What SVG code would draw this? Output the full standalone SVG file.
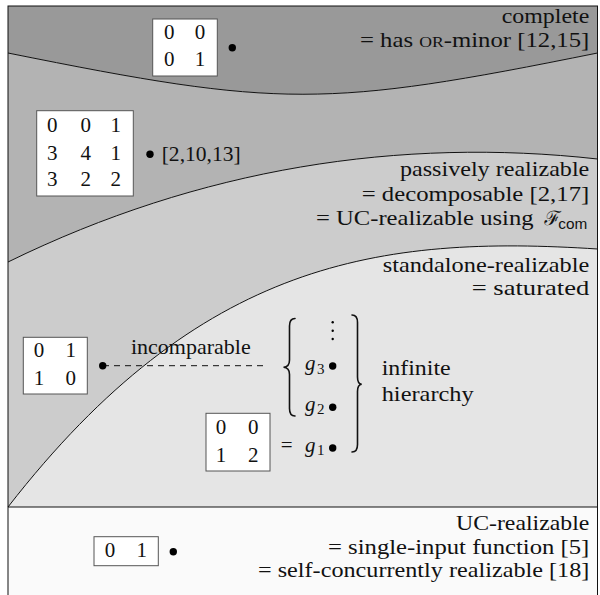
<svg xmlns="http://www.w3.org/2000/svg" width="600" height="595" viewBox="0 0 600 595">
<style>
.t{font-family:'Liberation Serif','Times New Roman',serif;font-size:21px;fill:#111}
.m{font-family:'Liberation Serif','Times New Roman',serif;font-size:21px;fill:#111;text-anchor:middle}
.i{font-family:'Liberation Serif','Times New Roman',serif;font-size:21px;font-style:italic;fill:#111}
.s{font-family:'Liberation Serif','Times New Roman',serif;font-size:15px;fill:#111}
.box{fill:#fff;stroke:#555;stroke-width:1}
.edge{fill:none;stroke:#111;stroke-width:1}
.dot{fill:#000}
.br{fill:none;stroke:#111;stroke-width:1.6;stroke-linecap:round}
</style>
<g id="regions">
<path id="r-complete" d="M8,6 H597.5 V53 C325,108 281,108 8,53 Z" fill="#999999"/>
<path id="r-middle" d="M8,53 C281,108 325,108 597.5,53 V159 C400,137 200,168 8,262 Z" fill="#b3b3b3"/>
<path id="r-passive" d="M8,262 C200,168 400,137 597.5,159 V249 C380,235 200,260 8,507 Z" fill="#cccccc"/>
<path id="r-standalone" d="M8,507 C200,260 380,235 597.5,249 V507 Z" fill="#e5e5e5"/>
<rect id="r-uc" x="8" y="507" width="589.5" height="92" fill="#fafafa"/>
<path class="edge" d="M8,53 C281,108 325,108 597.5,53"/>
<path class="edge" d="M8,262 C200,168 400,137 597.5,159"/>
<path class="edge" d="M8,507 C200,260 380,235 597.5,249"/>
<path class="edge" d="M8,507 H597.5"/>
<rect class="edge" x="8" y="6" width="589.5" height="595"/>
</g>
<g id="labels">
<text class="t" x="501.7" y="23.3" textLength="87.6" lengthAdjust="spacingAndGlyphs">complete</text>
<text class="t" x="360" y="46.7" textLength="229.3" lengthAdjust="spacingAndGlyphs">= has <tspan style="font-variant:small-caps">or</tspan>-minor [12,15]</text>
<text class="t" x="400" y="176" textLength="189.3" lengthAdjust="spacingAndGlyphs">passively realizable</text>
<text class="t" x="361.7" y="200.5" textLength="227.6" lengthAdjust="spacingAndGlyphs">= decomposable [2,17]</text>
<text class="t" x="316" y="225" textLength="217.5" lengthAdjust="spacingAndGlyphs">= UC-realizable using</text>
<text x="544" y="225" style="font-family:'DejaVu Serif','Noto Sans',serif;font-size:20px;font-style:italic;fill:#111">ℱ</text>
<text x="558.3" y="228.5" textLength="29" lengthAdjust="spacingAndGlyphs" style="font-family:'Liberation Sans',Arial,sans-serif;font-size:15px;fill:#111">com</text>
<text class="t" x="382.7" y="271.7" textLength="206.6" lengthAdjust="spacingAndGlyphs">standalone-realizable</text>
<text class="t" x="471.7" y="294.8" textLength="117.6" lengthAdjust="spacingAndGlyphs">= saturated</text>
<text class="t" x="456" y="530" textLength="133.3" lengthAdjust="spacingAndGlyphs">UC-realizable</text>
<text class="t" x="328" y="554" textLength="261.3" lengthAdjust="spacingAndGlyphs">= single-input function [5]</text>
<text class="t" x="258" y="577" textLength="331.3" lengthAdjust="spacingAndGlyphs">= self-concurrently realizable [18]</text>
</g>
<g id="connectors">
<line class="edge" x1="103" y1="365.7" x2="266.7" y2="365.7" stroke-dasharray="6,5"/>
<text class="t" x="131" y="354" textLength="119.7" lengthAdjust="spacingAndGlyphs">incomparable</text>
</g>
<g id="m-0001">
<rect class="box" x="152.7" y="19" width="64.6" height="57"/>
<text class="m" x="169.3" y="39.3">0</text><text class="m" x="200" y="39.3">0</text>
<text class="m" x="169.3" y="66">0</text><text class="m" x="200" y="66">1</text>
<circle class="dot" cx="232.3" cy="47.7" r="3.7"/>
</g>
<g id="m-3x3">
<rect class="box" x="36.7" y="110.7" width="96.6" height="85.3"/>
<text class="m" x="52.3" y="132">0</text><text class="m" x="85.7" y="132">0</text><text class="m" x="115.7" y="132">1</text>
<text class="m" x="52.3" y="159.5">3</text><text class="m" x="85.7" y="159.5">4</text><text class="m" x="115.7" y="159.5">1</text>
<text class="m" x="52.3" y="186">3</text><text class="m" x="85.7" y="186">2</text><text class="m" x="115.7" y="186">2</text>
<circle class="dot" cx="150" cy="154.3" r="3.7"/>
<text class="t" x="161.7" y="161" textLength="79" lengthAdjust="spacingAndGlyphs">[2,10,13]</text>
</g>
<g id="m-0110">
<rect class="box" x="23.3" y="337.3" width="64" height="56.7"/>
<text class="m" x="39" y="357">0</text><text class="m" x="70.7" y="357">1</text>
<text class="m" x="39" y="385">1</text><text class="m" x="70.7" y="385">0</text>
<circle class="dot" cx="102.7" cy="365.7" r="3.7"/>
</g>
<g id="hierarchy">
<path class="br" d="M295,318.5 Q289.5,318.5 289.5,326 L289.5,360 Q289.5,367 283.5,367.3 Q289.5,367.6 289.5,374.5 L289.5,408.5 Q289.5,416 295,416"/>
<path class="br" d="M352,315 Q357.5,315 357.5,322.5 L357.5,377 Q357.5,384 361.7,384.3 Q357.5,384.6 357.5,391.5 L357.5,444.5 Q357.5,452 352,452"/>
<circle class="dot" cx="332.7" cy="322.3" r="1.2"/>
<circle class="dot" cx="332.7" cy="330.7" r="1.2"/>
<circle class="dot" cx="332.7" cy="339" r="1.2"/>
<text class="i" x="305" y="370">g</text><text class="s" x="317" y="373.5">3</text>
<circle class="dot" cx="332.7" cy="366" r="3.7"/>
<text class="i" x="305" y="410.7">g</text><text class="s" x="317" y="414.2">2</text>
<circle class="dot" cx="332.7" cy="407.3" r="3.7"/>
<text class="t" x="280.7" y="451.7">=</text>
<text class="i" x="305" y="451.7">g</text><text class="s" x="317" y="455.2">1</text>
<circle class="dot" cx="332.7" cy="448" r="3.7"/>
<text class="t" x="381.7" y="375" textLength="69" lengthAdjust="spacingAndGlyphs">infinite</text>
<text class="t" x="381.7" y="401" textLength="92" lengthAdjust="spacingAndGlyphs">hierarchy</text>
</g>
<g id="m-0012">
<rect class="box" x="206" y="413.3" width="64" height="57.7"/>
<text class="m" x="221" y="434">0</text><text class="m" x="253.3" y="434">0</text>
<text class="m" x="221" y="461.5">1</text><text class="m" x="253.3" y="461.5">2</text>
</g>
<g id="m-01">
<rect class="box" x="94" y="536.7" width="64.3" height="29"/>
<text class="m" x="110" y="557">0</text><text class="m" x="141.7" y="557">1</text>
<circle class="dot" cx="173.3" cy="551.7" r="3.7"/>
</g>
</svg>
